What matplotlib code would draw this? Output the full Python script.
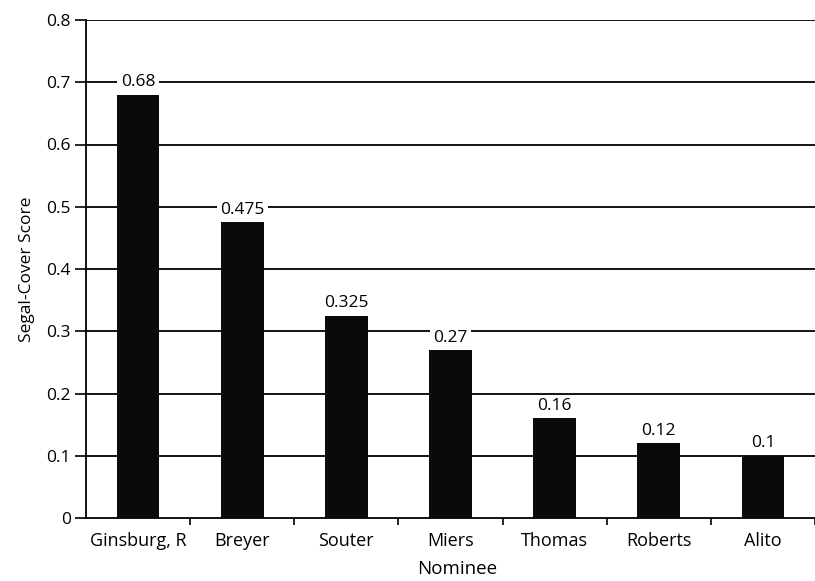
import matplotlib
matplotlib.use("Agg")
import matplotlib.pyplot as plt
import numpy as np

nominees = ["Ginsburg, R", "Breyer", "Souter", "Miers", "Thomas", "Roberts", "Alito"]
scores = [0.68, 0.475, 0.325, 0.27, 0.16, 0.12, 0.1]
score_labels = ["0.68", "0.475", "0.325", "0.27", "0.16", "0.12", "0.1"]
y_ticks = [0, 0.1, 0.2, 0.3, 0.4, 0.5, 0.6, 0.7, 0.8]
y_tick_labels = ["0", "0.1", "0.2", "0.3", "0.4", "0.5", "0.6", "0.7", "0.8"]

plt.rcParams["font.family"] = ["Open Sans", "DejaVu Sans"]

fig = plt.figure(figsize=(8.15, 5.81), dpi=100)
ax = fig.add_axes([86 / 815, 1 - 518 / 581, (815 - 86) / 815, (518 - 20) / 581])

x = np.arange(len(nominees))
ax.bar(x, scores, width=0.41, color="#0a0a0a", zorder=3)

# horizontal gridlines in solid black
for yv in y_ticks[1:]:
    ax.axhline(yv, color="black", lw=1.3, zorder=1)

for xi, v, lab in zip(x, scores, score_labels):
    ax.text(xi, v + 0.007, lab, ha="center", va="bottom", fontsize=12.5,
            bbox=dict(facecolor="white", edgecolor="none", pad=2.5), zorder=4)

ax.set_xlim(-0.5, 6.38)
ax.set_ylim(0, 0.8)
ax.set_yticks(y_ticks)
ax.set_yticklabels(y_tick_labels, fontsize=12.5)
ax.set_xticks(x)
ax.set_xticklabels(nominees, fontsize=13)
ax.tick_params(axis="x", length=0, pad=10)
ax.tick_params(axis="y", length=8, width=1.2, pad=3)
ax.set_xticks(np.arange(len(nominees)) + 0.5, minor=True)
ax.tick_params(axis="x", which="minor", length=5, width=1.2, direction="out")

for s in ["top", "right"]:
    ax.spines[s].set_visible(False)
ax.spines["left"].set_linewidth(1.3)
ax.spines["bottom"].set_linewidth(1.3)

ax.set_ylabel("Segal-Cover Score", fontsize=12.5, labelpad=8)
ax.set_xlabel("Nominee", fontsize=13.5, labelpad=7)
ax.xaxis.set_label_coords(0.509, -0.085)

fig.savefig("out.png", dpi=100)
